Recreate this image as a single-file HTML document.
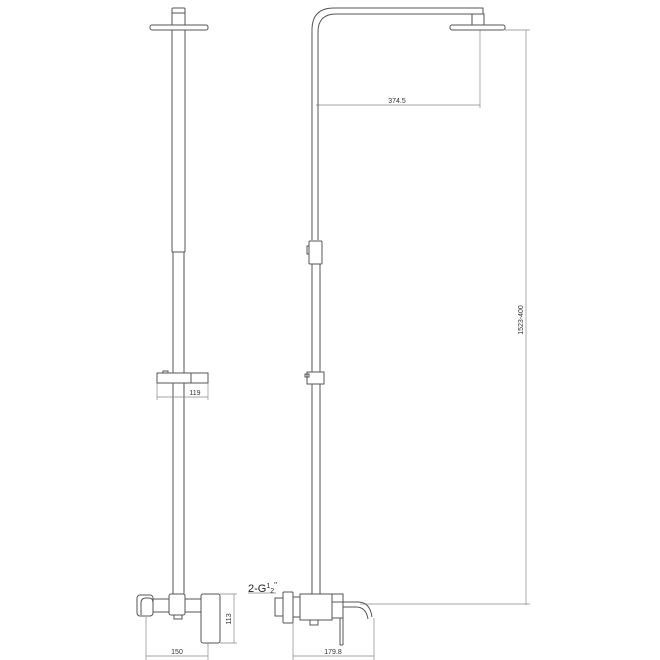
<!DOCTYPE html>
<html><head><meta charset="utf-8"><style>html,body{margin:0;padding:0;background:#fff}svg{display:block}</style></head>
<body>
<svg width="660" height="660" viewBox="0 0 660 660" xmlns="http://www.w3.org/2000/svg" font-family="Liberation Sans, sans-serif">
<g fill="none" stroke="#555" stroke-width="1">
<!-- LEFT VIEW -->
<rect x="172" y="8" width="13" height="17" rx="1"/>
<line x1="172" y1="13" x2="185" y2="13"/>
<rect x="150" y="25" width="58" height="5" rx="2"/>
<line x1="172" y1="30" x2="172" y2="252"/>
<line x1="185" y1="30" x2="185" y2="252"/>
<line x1="172" y1="252" x2="185" y2="252"/>
<line x1="173" y1="252" x2="173" y2="594"/>
<line x1="184" y1="252" x2="184" y2="594"/>
<rect x="157" y="373" width="51" height="10" fill="#fff"/>
<line x1="191" y1="373" x2="191" y2="383"/>
<line x1="172" y1="373" x2="191" y2="373"/>
<line x1="172" y1="383" x2="191" y2="383"/>
<rect x="163" y="371" width="5" height="2"/>
<!-- left bottom -->
<rect x="137" y="595" width="16" height="21" rx="3"/>
<path d="M141 615 V603 q0 -5 5 -5 h3 q4 0 4 5"/>
<line x1="153" y1="599" x2="169" y2="599"/>
<line x1="153" y1="612" x2="169" y2="612"/>
<rect x="169" y="594" width="16" height="21" rx="2"/>
<line x1="185" y1="599" x2="201" y2="599"/>
<line x1="185" y1="612" x2="201" y2="612"/>
<rect x="201" y="594" width="19" height="49" rx="2"/>
<rect x="174" y="615" width="8" height="4"/>
<!-- dims left -->
<g stroke="#888" stroke-width="0.7">
<line x1="157" y1="383" x2="157" y2="400"/><line x1="208" y1="383" x2="208" y2="400"/>
<line x1="157" y1="397" x2="208" y2="397"/>
<line x1="220" y1="594" x2="237" y2="594"/><line x1="220" y1="643" x2="237" y2="643"/>
<line x1="234" y1="594" x2="234" y2="643"/>
<line x1="146" y1="617" x2="146" y2="660"/><line x1="208" y1="643" x2="208" y2="660"/>
<line x1="146" y1="656" x2="208" y2="656"/>
<!-- right dims -->
<line x1="480" y1="30" x2="480" y2="108"/>
<line x1="316" y1="105" x2="480" y2="105"/>
<line x1="505" y1="30" x2="530" y2="30"/>
<line x1="526" y1="30" x2="526" y2="605"/>
<line x1="360" y1="604" x2="530" y2="604"/>
<line x1="293" y1="623" x2="293" y2="660"/><line x1="374" y1="618" x2="374" y2="660"/>
<line x1="293" y1="656" x2="374" y2="656"/>
<line x1="248" y1="593" x2="276" y2="593"/>
</g>
<!-- RIGHT VIEW -->
<path d="M312 240 V30 Q312 8 334 8 H483 V14"/>
<path d="M318 240 V32 Q318 14 336 14 H472"/>
<rect x="472" y="14" width="12" height="11"/>
<rect x="450" y="25" width="55" height="5" rx="2"/>
<rect x="309" y="241" width="13" height="23" rx="1" fill="#fff"/>
<rect x="307" y="246" width="2" height="8"/>
<line x1="312" y1="264" x2="312" y2="594"/>
<line x1="320" y1="264" x2="320" y2="594"/>
<rect x="307" y="372" width="17" height="12" fill="#fff"/>
<rect x="305" y="374" width="4" height="3"/>
<!-- right bottom -->
<rect x="275" y="598" width="8" height="18"/>
<rect x="283" y="592" width="10" height="31" rx="1"/>
<rect x="293" y="597" width="7" height="20"/>
<rect x="300" y="594" width="32" height="26" fill="#fff"/>
<rect x="332" y="594" width="11" height="8"/>
<rect x="332" y="602" width="11" height="16"/>
<path d="M343 602 H358 Q370 602 372 617"/>
<path d="M343 607 H356 Q366 607 368 619"/>
<line x1="340" y1="618" x2="340" y2="645"/>
<line x1="343" y1="618" x2="343" y2="645"/>
<line x1="340" y1="645" x2="343" y2="645"/>
<rect x="310" y="620" width="8" height="5"/>
</g>
<g fill="#333" font-size="7" text-anchor="middle">
<text x="195" y="395">119</text>
<text x="177" y="654">150</text>
<text x="333" y="654">179.8</text>
<text x="397" y="103">374.5</text>
<text transform="translate(231,619) rotate(-90)">113</text>
<text transform="translate(523,320) rotate(-90)">1523-400</text>
</g>
<text x="248" y="592" font-size="11" fill="#222">2-G<tspan font-size="7" dy="-4">1</tspan><tspan font-size="7" dy="5">2</tspan><tspan font-size="8" dy="-5">"</tspan></text>
</svg>
</body></html>
